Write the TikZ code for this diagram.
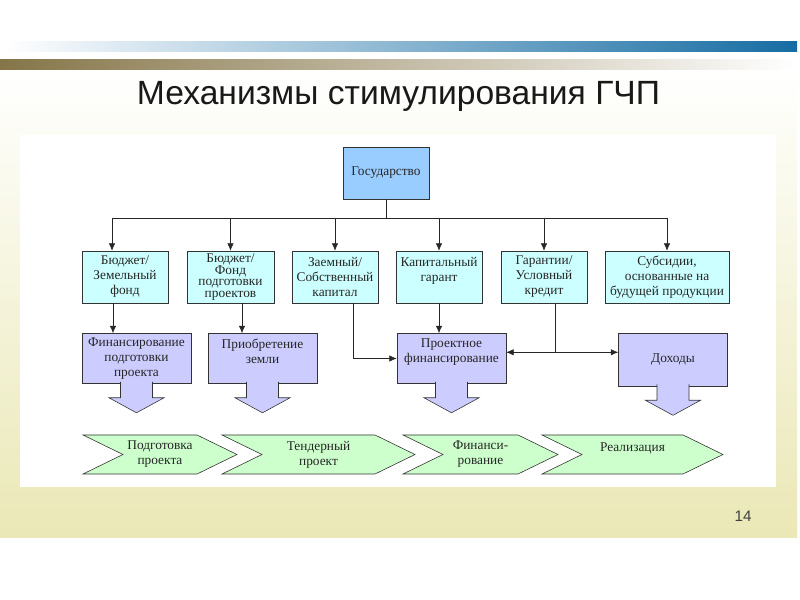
\documentclass[tikz,border=0pt]{standalone}
\usepackage{fontspec}
\setmainfont{Liberation Serif}
\newfontfamily\slidefont{Liberation Sans}
\usepackage{tikz}
\usetikzlibrary{shapes.symbols}
\usetikzlibrary{arrows.meta}
\usetikzlibrary{calc}
\definecolor{govblue}{RGB}{153,204,255}
\definecolor{srccyan}{RGB}{204,255,255}
\definecolor{finlav}{RGB}{204,204,255}
\definecolor{stagegreen}{RGB}{204,255,204}
\definecolor{slideyellow}{RGB}{234,232,182}
\definecolor{barblue}{RGB}{22,108,163}
\definecolor{barbrown}{RGB}{133,117,72}

\begin{document}
\begin{tikzpicture}[x=0.03cm,y=-0.03cm,
    box/.style={draw=black!80,line width=0.5pt,align=center,inner sep=1pt,text=black!85,font=\fontsize{11.4}{12.8}\selectfont},
    gov/.style={box,fill=govblue,minimum width=2.58cm,minimum height=1.56cm},
    src/.style={box,fill=srccyan,minimum width=2.58cm,minimum height=1.56cm},
    fin/.style={box,fill=finlav,minimum width=3.27cm,minimum height=1.5cm},
    stage/.style={box,signal,signal from=west,signal to=east,signal pointer angle=52,fill=stagegreen,minimum height=1.17cm,inner sep=0pt},
    link/.style={line width=0.5pt,draw=black!85},
    arr/.style={link,-{Latex[length=2.2mm,width=1.9mm]}},
    darr/.style={link,{Latex[length=2.2mm,width=1.9mm]}-{Latex[length=2.2mm,width=1.9mm]}}]
  \useasboundingbox (0,0) rectangle (800,600);
  \fill[white] (0,0) rectangle (800,600);
  \shade[top color=white,bottom color=slideyellow] (0,71) rectangle (797,538);
  \shade[left color=white,middle color=barblue!62,right color=barblue] (4,42) rectangle (797,52);
  \shade[left color=barbrown,middle color=barbrown!35,right color=white] (0,60) rectangle (797,70);
  \fill[white] (20,135) rectangle (776,487);
  \node[anchor=base,text=black!90,font=\slidefont\fontsize{28.7}{30}\selectfont] (title) at (398.5,105) {Механизмы стимулирования ГЧП};
  \node[anchor=base,text=black!75,font=\slidefont\fontsize{13}{15}\selectfont] (page) at (743,522) {14};

  % state and sources
  \node[gov] (state) at (386,173) {Государство};
  \node[src,minimum width=2.61cm,font=\fontsize{11.4}{10}\selectfont] (fund) at (230.5,277) {Бюджет/\\Фонд\\подготовки\\проектов};
  \node[src] (budget) at (125,277) {Бюджет/\\Земельный\\фонд};
  \node[src] (equity) at (335,277) {Заемный/\\Собственный\\капитал};
  \node[src] (guarant) at (439,277) {Капитальный\\гарант\\\mbox{}};
  \node[src] (credit) at (544,277) {Гарантии/\\Условный\\кредит};
  \node[src,minimum width=3.72cm] (subsidy) at (667,277) {Субсидии,\\основанные на\\будущей продукции};

  % financing
  \node[fin] (prep) at (136.5,358.5) {Финансирование\\подготовки\\проекта};
  \node[fin] (land) at (262.5,358.5) {Приобретение\\земли\\\mbox{}};
  \node[fin] (projfin) at (451.5,358.5) {Проектное\\финансирование\\\mbox{}};
  \node[fin,minimum height=1.59cm] (income) at (673,359.5) {Доходы};
  \foreach \n in {prep,land,projfin,income}
    \draw[draw=black!80,line width=0.5pt,fill=finlav] ($(\n.south)+(-16,-2)$) -- ($(\n.south)+(-16,14)$) -- ($(\n.south)+(-27.5,14)$)
      -- ($(\n.south)+(0,29)$) -- ($(\n.south)+(27.5,14)$) -- ($(\n.south)+(16,14)$) -- ($(\n.south)+(16,-2)$);

  % stages
  \node[stage,minimum width=4.62cm] (st1) at (160,454.5) {Подготовка\\проекта};
  \node[stage,minimum width=5.79cm] (st2) at (318.5,454.5) {Тендерный\\проект};
  \node[stage,minimum width=4.65cm] (st3) at (480.5,454.5) {Финанси-\\рование};
  \node[stage,minimum width=5.43cm] (st4) at (632.5,454.5) {Реализация\\\mbox{}};

  % connectors
  \coordinate (bus) at (0,218);
  \coordinate (b1top) at ($(budget.north)+(-13,0)$);
  \coordinate (b1bot) at ($(budget.south)+(-12,0)$);
  \coordinate (b2bot) at ($(fund.south)+(11.5,0)$);
  \coordinate (b3bot) at ($(equity.south)+(18,0)$);
  \coordinate (split) at ($(credit.south)+(11,49)$);
  \draw[link] (state.south) -- (state.south |- bus);
  \draw[link] (b1top |- bus) -- (subsidy.north |- bus);
  \draw[arr] (b1top |- bus) -- (b1top);
  \foreach \n in {fund,equity,guarant,credit,subsidy}
    \draw[arr] (\n.north |- bus) -- (\n.north);
  \draw[arr] (b1bot) -- (b1bot |- prep.north);
  \draw[arr] (b2bot) -- (b2bot |- land.north);
  \draw[arr] (b3bot) |- (projfin.west);
  \draw[arr] (guarant.south) -- (guarant.south |- projfin.north);
  \draw[link] (credit.south -| split) -- (split);
  \draw[arr] (split) -- (split -| projfin.east);
  \draw[arr] (split) -- (split -| income.west);
\end{tikzpicture}
\end{document}
